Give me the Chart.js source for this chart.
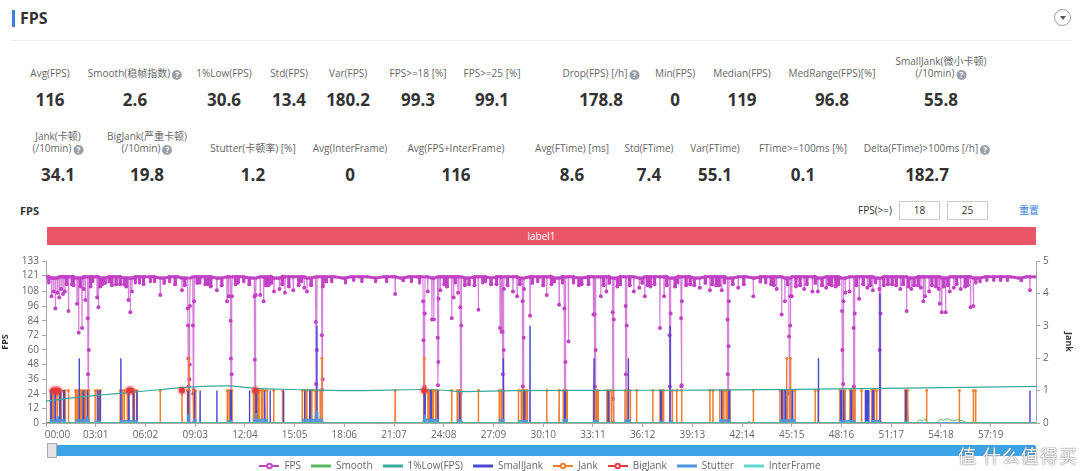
<!DOCTYPE html>
<html>
<head>
<meta charset="utf-8">
<script src="https://cdn.jsdelivr.net/npm/chart.js@4.4.0/dist/chart.umd.min.js"></script>
<style>
  html, body { margin: 0; padding: 0; background: #fff; width: 1080px; height: 471px; overflow: hidden; }
  body { position: relative; font-family: "Open Sans", "Noto Sans CJK SC", sans-serif; color: #333; }
  .abs { position: absolute; white-space: nowrap; }
  .bar { left: 12px; top: 10px; width: 3px; height: 17px; background: #3c7fe0; }
  .title { left: 20px; top: 7px; font-size: 16px; font-weight: bold; line-height: 22px; }
  .sep { left: 12px; top: 40px; width: 1060px; height: 1px; background: #eee; }
  .drop { left: 1054px; top: 9px; width: 17px; height: 17px; border: 1px solid #999; border-radius: 50%; box-sizing: border-box; }
  .drop:after { content: ""; position: absolute; left: 4.5px; top: 6px; border-left: 3.5px solid transparent; border-right: 3.5px solid transparent; border-top: 4px solid #555; }
  .lbl { font-size: 10px; line-height: 12px; color: #666; text-align: center; transform: translateX(-50%); }
  .val { font-size: 17px; line-height: 20px; font-weight: bold; color: #333; transform: translateX(-50%); }
  .help { display: inline-block; width: 10px; height: 10px; border-radius: 50%; background: #9aa0a8; color: #fff; font-size: 8px; line-height: 10px; text-align: center; font-weight: bold; vertical-align: -1px; margin-left: 2px; }
  .sub { left: 20px; top: 204px; font-size: 11px; font-weight: bold; line-height: 14px; }
  .fpsge { left: 858px; top: 204px; font-size: 10px; line-height: 13px; color: #333; }
  .inp { top: 201px; width: 41px; height: 19px; border: 1px solid #ccc; box-sizing: border-box; font-size: 10px; line-height: 17px; text-align: center; color: #333; }
  .reset { left: 1019px; top: 204px; font-size: 10px; line-height: 13px; color: #3b7ddd; }
  .label1 { left: 47px; top: 227px; width: 989px; height: 18px; background: #ea5769; color: #fff; font-size: 10px; line-height: 18px; text-align: center; }
  .slider { left: 47px; top: 445px; width: 989px; height: 11px; background: #3ba4e6; border-radius: 2px; }
  .handle { left: 47px; top: 443px; width: 10px; height: 15px; background: #e4e4e4; border: 1px solid #aaa; box-sizing: border-box; }
  .wm { left: 958px; top: 444px; font-size: 18px; line-height: 24px; color: rgba(255,255,255,0.92); text-shadow: 0 0 2px #888, 0 0 1px #777; letter-spacing: 1px; }
  canvas { position: absolute; left: 0; top: 250px; }
</style>
</head>
<body>
<div class="abs bar"></div>
<div class="abs title">FPS</div>
<div class="abs drop"></div>
<div class="abs sep"></div>
<div id="stats"></div>
<div class="abs sub">FPS</div>
<div class="abs fpsge">FPS(&gt;=)</div>
<div class="abs inp" style="left:899px">18</div>
<div class="abs inp" style="left:947px">25</div>
<div class="abs reset">重置</div>
<div class="abs label1">label1</div>
<canvas id="fpsChart" width="1080" height="231"></canvas>
<div class="abs slider"></div>
<div class="abs handle"></div>
<div class="abs wm">值 什么值得买</div>
<script>
// summary numbers: [label lines, value, centre x, has help icon]
const statsRow1 = [
    [['Avg(FPS)'], '116', 50, false],
    [['Smooth(稳帧指数)'], '2.6', 135, true],
    [['1%Low(FPS)'], '30.6', 224, false],
    [['Std(FPS)'], '13.4', 289, false],
    [['Var(FPS)'], '180.2', 348, false],
    [['FPS>=18 [%]'], '99.3', 418, false],
    [['FPS>=25 [%]'], '99.1', 492, false],
    [['Drop(FPS) [/h]'], '178.8', 601, true],
    [['Min(FPS)'], '0', 675, false],
    [['Median(FPS)'], '119', 742, false],
    [['MedRange(FPS)[%]'], '96.8', 832, false],
    [['SmallJank(微小卡顿)', '(/10min)'], '55.8', 941, true]
];
const statsRow2 = [
    [['Jank(卡顿)', '(/10min)'], '34.1', 58, true],
    [['BigJank(严重卡顿)', '(/10min)'], '19.8', 147, true],
    [['Stutter(卡顿率) [%]'], '1.2', 253, false],
    [['Avg(InterFrame)'], '0', 350, false],
    [['Avg(FPS+InterFrame)'], '116', 456, false],
    [['Avg(FTime) [ms]'], '8.6', 572, false],
    [['Std(FTime)'], '7.4', 649, false],
    [['Var(FTime)'], '55.1', 715, false],
    [['FTime>=100ms [%]'], '0.1', 803, false],
    [['Delta(FTime)>100ms [/h]'], '182.7', 927, true]
];

// time axis (seconds) and tick labels
const xMax = 3604;
const xTickStep = 181;
const xTickLabels = ['00:00', '03:01', '06:02', '09:03', '12:04', '15:05', '18:06', '21:07', '24:08', '27:09',
    '30:10', '33:11', '36:12', '39:13', '42:14', '45:15', '48:16', '51:17', '54:18', '57:19'];
const fpsTicks = [0, 12, 24, 36, 48, 60, 72, 84, 96, 108, 121, 133];

// FPS level sampled every 30 s
const fpsStep = 30;
const fpsBase = [
    120, 119, 120, 120, 119, 120, 120, 119, 120, 120,
    119, 120, 120, 120, 119, 120, 120, 119, 120, 120,
    120, 119, 120, 120, 120, 119, 120, 120, 119, 120,
    120, 120, 119, 120, 120, 120, 119, 120, 120, 120,
    119, 120, 120, 119, 120, 120, 120, 119, 120, 120,
    120, 119, 120, 120, 119, 120, 120, 120, 119, 120,
    120, 120, 119, 120, 120, 119, 120, 120, 120, 119,
    120, 120, 119, 120, 120, 120, 119, 120, 120, 119,
    120, 120, 120, 119, 120, 120, 119, 120, 120, 120,
    119, 120, 120, 120, 119, 120, 120, 119, 120, 120,
    120, 119, 120, 120, 120, 119, 120, 120, 120, 119,
    120, 120, 120, 119, 120, 120, 120, 120, 119, 120, 120
];
// single-second FPS dips [sec, fps]
const fpsDips = [
    [10, 115], [20, 104], [27, 108], [34, 94], [41, 107], [48, 103], [55, 110], [62, 106], [69, 108], [75, 114],
    [82, 92], [95, 114], [100, 113], [113, 98], [119, 74], [125, 112], [131, 78], [137, 110], [143, 101], [162, 112],
    [170, 116], [186, 103], [191, 95], [197, 112], [205, 114], [215, 115], [230, 116], [240, 113], [255, 114], [270, 114],
    [285, 114], [292, 112], [300, 101], [307, 91], [313, 108], [325, 115], [340, 115], [355, 114], [380, 116], [395, 116],
    [416, 105], [430, 115], [450, 116], [470, 114], [495, 109], [505, 113], [550, 115], [560, 115], [580, 114], [590, 114],
    [600, 112], [622, 109], [640, 113], [659, 100], [665, 104], [690, 114], [700, 115], [720, 116], [740, 114], [780, 105],
    [792, 100], [800, 113], [810, 113], [820, 115], [830, 108], [850, 110], [860, 114], [870, 107], [884, 112], [900, 109],
    [920, 113], [930, 116], [940, 111], [950, 108], [965, 113], [1020, 116], [1040, 116], [1090, 115], [1120, 117], [1150, 116],
    [1200, 116], [1240, 116], [1271, 106], [1300, 117], [1330, 116], [1360, 115], [1390, 108], [1405, 85], [1412, 85], [1435, 109],
    [1450, 114], [1460, 112], [1477, 86], [1484, 103], [1490, 115], [1500, 107], [1525, 113], [1540, 114], [1560, 113], [1574, 93],
    [1590, 115], [1600, 116], [1620, 114], [1640, 114], [1653, 78], [1658, 75], [1680, 113], [1700, 108], [1715, 104], [1725, 114],
    [1762, 88], [1770, 115], [1790, 116], [1810, 113], [1823, 105], [1840, 114], [1850, 116], [1868, 97], [1880, 115], [1902, 67],
    [1920, 115], [1940, 113], [1950, 114], [1975, 114], [1993, 89], [2020, 104], [2030, 113], [2040, 108], [2050, 115], [2080, 112],
    [2090, 114], [2125, 113], [2140, 108], [2160, 111], [2170, 115], [2180, 104], [2190, 113], [2200, 112], [2215, 114], [2235, 78],
    [2250, 104], [2260, 113], [2290, 112], [2300, 115], [2330, 113], [2345, 114], [2360, 113], [2380, 111], [2400, 115], [2417, 109],
    [2425, 114], [2440, 113], [2450, 113], [2460, 109], [2470, 115], [2500, 114], [2520, 111], [2540, 114], [2575, 104], [2600, 116],
    [2620, 115], [2640, 114], [2650, 113], [2660, 110], [2678, 89], [2690, 100], [2700, 114], [2715, 104], [2730, 112], [2745, 113],
    [2760, 110], [2770, 114], [2790, 108], [2800, 115], [2810, 108], [2825, 113], [2840, 111], [2850, 114], [2860, 113], [2875, 112],
    [2885, 114], [2910, 107], [2925, 108], [2950, 113], [2960, 102], [2975, 114], [2990, 111], [3000, 113], [3010, 109], [3020, 115],
    [3050, 113], [3065, 114], [3080, 114], [3095, 113], [3110, 110], [3120, 114], [3133, 92], [3140, 112], [3150, 110], [3160, 113],
    [3175, 113], [3185, 111], [3194, 100], [3200, 104], [3215, 108], [3225, 113], [3240, 112], [3250, 110], [3254, 98], [3261, 91],
    [3268, 112], [3275, 91], [3283, 113], [3290, 108], [3305, 111], [3315, 114], [3330, 110], [3346, 112], [3355, 113], [3366, 95],
    [3376, 96], [3385, 115], [3400, 116], [3425, 117], [3450, 117], [3475, 117], [3500, 117], [3550, 117], [3582, 109]
];
// multi-second drops [start sec, fps per second]
const fpsDrops = [
    [152, [86, 40, 0, 0, 60]],
    [516, [94, 80, 53, 30, 0, 0, 36, 48, 96]],
    [535, [80, 24, 0, 27, 100]],
    [672, [84, 53, 0, 0, 40, 104]],
    [759, [104, 52, 0, 0, 27, 105]],
    [982, [83, 32, 0, 0, 60]],
    [1004, [72, 27, 0, 36, 112]],
    [1373, [100, 68, 26, 0, 0, 30, 90]],
    [1426, [70, 31, 50, 102]],
    [1508, [95, 24, 0, 0, 80]],
    [1662, [75, 40, 0, 0, 60, 110]],
    [1735, [100, 30, 0, 0, 70, 110]],
    [1887, [94, 26, 0, 0, 50]],
    [1997, [89, 30, 0, 0, 60]],
    [2063, [91, 20, 0, 0, 85]],
    [2110, [96, 40, 0, 0, 80]],
    [2270, [72, 30, 0, 0, 90]],
    [2312, [86, 30, 31, 100]],
    [2481, [85, 40, 0, 0, 63, 100]],
    [2705, [71, 24, 0, 0, 80, 104]],
    [2898, [92, 60, 0, 0, 32, 100]],
    [2940, [78, 30, 0, 0, 90]],
    [3034, [110, 60, 0, 0, 90]]
];

// 1%Low(FPS)
const lowTimes = [0, 110, 200, 300, 420, 520, 660, 760, 900, 1100, 1377, 1470, 1500, 1700, 2000, 2400, 2800, 3200, 3604];
const lowValues = [18, 21, 23, 25, 27.5, 29.5, 30.5, 28.5, 27.5, 26.5, 27.5, 26.5, 25.8, 26.5, 26.8, 27, 27.8, 28.8, 30];

// jank counts [start sec, end sec, count]
const jankRuns = [
    [16, 24, 1], [28, 40, 1], [44, 52, 1], [56, 70, 1], [82, 82, 1], [107, 112, 1], [117, 126, 1], [131, 140, 1], [146, 156, 1],
    [179, 186, 1], [190, 198, 1], [270, 278, 1], [285, 296, 1], [302, 316, 1], [322, 332, 1], [416, 416, 1], [495, 495, 1],
    [515, 518, 1], [519, 519, 2], [520, 522, 1], [537, 545, 1], [660, 666, 1], [670, 677, 1],
    [755, 760, 1], [762, 770, 1], [776, 784, 1], [790, 805, 1], [829, 829, 1], [861, 861, 1],
    [933, 945, 1], [950, 962, 1], [968, 980, 1], [986, 998, 1], [1004, 1004, 2],
    [1271, 1271, 1], [1374, 1376, 1], [1377, 1377, 2], [1378, 1390, 1], [1396, 1404, 1], [1410, 1418, 1], [1424, 1428, 1],
    [1477, 1477, 1], [1497, 1503, 1], [1507, 1510, 1], [1574, 1574, 1], [1650, 1656, 1], [1660, 1666, 1],
    [1720, 1730, 1], [1736, 1744, 1], [1748, 1752, 1], [1823, 1823, 1], [1868, 1868, 1], [1883, 1890, 1], [1894, 1897, 1],
    [1993, 2001, 1], [2005, 2010, 1], [2042, 2050, 1], [2058, 2066, 1], [2108, 2116, 1], [2120, 2127, 1], [2150, 2150, 1],
    [2209, 2209, 1], [2235, 2241, 1], [2245, 2248, 1], [2272, 2280, 1], [2296, 2296, 1], [2314, 2314, 1], [2417, 2417, 1], [2428, 2428, 1],
    [2453, 2462, 1], [2468, 2476, 1], [2482, 2490, 1], [2575, 2575, 1],
    [2672, 2680, 1], [2684, 2694, 1], [2697, 2697, 2], [2700, 2708, 1], [2710, 2710, 2], [2712, 2727, 1],
    [2800, 2800, 1], [2811, 2811, 1], [2890, 2898, 1], [2901, 2909, 1], [2927, 2935, 1], [2939, 2945, 1], [2969, 2969, 1],
    [3006, 3012, 1], [3016, 3024, 1], [3036, 3036, 1], [3127, 3132, 1], [3135, 3138, 1], [3206, 3206, 1], [3325, 3325, 1], [3376, 3384, 1]
];
const smallJankRuns = [
    [18, 19, 1], [33, 34, 1], [50, 51, 1], [64, 66, 1], [121, 121, 2], [135, 137, 1], [150, 152, 1], [188, 189, 1], [196, 197, 1],
    [272, 272, 1], [273, 273, 2], [300, 302, 1], [318, 320, 1], [330, 331, 1], [517, 518, 1], [540, 541, 1], [561, 561, 1],
    [622, 622, 1], [672, 674, 1], [741, 741, 1], [764, 766, 1], [795, 797, 1], [816, 816, 1], [865, 865, 1],
    [940, 942, 1], [960, 962, 1], [986, 986, 3], [1377, 1380, 1], [1400, 1402, 1], [1426, 1427, 1], [1505, 1507, 1],
    [1665, 1665, 2], [1740, 1742, 1], [1762, 1762, 3], [1888, 1890, 1], [1995, 1995, 2], [2046, 2048, 1], [2120, 2120, 2],
    [2238, 2240, 1], [2272, 2272, 3], [2458, 2460, 1], [2486, 2488, 1], [2678, 2680, 1], [2690, 2692, 1], [2716, 2718, 1],
    [2812, 2812, 2], [2893, 2895, 1], [2903, 2905, 1], [2930, 2932, 1], [2983, 2986, 1], [2990, 2995, 1], [3010, 3012, 1],
    [3036, 3036, 4], [3130, 3131, 1], [3582, 3582, 1]
];
const bigJankTimes = [27, 36, 45, 302, 310, 495, 762, 1377];
const stutterRuns = [
    [16, 70, 0.1], [40, 44, 0.2], [107, 156, 0.1], [146, 150, 0.2], [179, 198, 0.06], [270, 332, 0.08], [515, 522, 0.25],
    [537, 545, 0.12], [660, 677, 0.08], [755, 805, 0.12], [762, 766, 0.3], [933, 1004, 0.12], [980, 990, 0.35],
    [1374, 1428, 0.12], [1377, 1381, 0.25], [1497, 1510, 0.1], [1650, 1666, 0.12], [1720, 1752, 0.08], [1883, 1897, 0.12],
    [1993, 2010, 0.08], [2108, 2127, 0.1], [2235, 2248, 0.06], [2272, 2280, 0.08], [2453, 2490, 0.1], [2672, 2727, 0.1],
    [2890, 2945, 0.08], [2983, 2995, 0.06], [3006, 3036, 0.08], [3127, 3138, 0.06]
];
const smoothTimes = [0, 1200, 1205, 1210, 2555, 2560, 2565, 3170, 3180, 3190, 3200, 3210, 3243, 3255, 3265, 3280, 3300, 3320, 3340, 3353, 3604];
const smoothValues = [0, 0, 0.03, 0, 0, 0.06, 0, 0, 0.1, 0.06, 0.12, 0, 0, 0.12, 0.08, 0.13, 0.07, 0.1, 0.06, 0, 0];
const interFrameTimes = [0, 3604];
const interFrameValues = [0, 0];

const colors = {
    fps: '#c242c4',
    fpsDrop: 'rgba(200, 90, 205, 0.75)',
    smooth: '#5cb860',
    low: '#38a99c',
    smallJank: '#4848d2',
    jank: '#f07f2e',
    bigJank: '#e43a3f',
    stutter: 'rgba(77, 152, 228, 0.85)',
    interFrame: '#5fd9d2'
};

// ---- summary block ----
const stats = document.getElementById('stats');
function addStats(row, labelBottom, valueTop) {
    row.forEach(([lines, value, x, help]) => {
        const lbl = document.createElement('div');
        lbl.className = 'abs lbl';
        lbl.style.left = x + 'px';
        lbl.style.top = (labelBottom - lines.length * 12) + 'px';
        lbl.innerHTML = lines.map((l, i) => l + (help && i === lines.length - 1 ? '<span class="help">?</span>' : '')).join('<br>');
        stats.appendChild(lbl);
        const val = document.createElement('div');
        val.className = 'abs val';
        val.style.left = x + 'px';
        val.style.top = valueTop + 'px';
        val.textContent = value;
        stats.appendChild(val);
    });
}
addStats(statsRow1, 79, 90);
addStats(statsRow2, 154, 165);

// ---- chart data ----
function baseAt(t) {
    return fpsBase[Math.min(fpsBase.length - 1, Math.round(t / fpsStep))];
}
const fpsPoints = [];
const busy = [];
fpsDips.forEach(([t, v]) => {
    const b = baseAt(t);
    fpsPoints.push({ x: t - 1, y: b }, { x: t, y: v }, { x: t + 1, y: b });
    busy.push([t - 1, t + 1]);
});
fpsDrops.forEach(([t0, vals]) => {
    const b = baseAt(t0);
    fpsPoints.push({ x: t0 - 1, y: b });
    vals.forEach((v, i) => fpsPoints.push({ x: t0 + i, y: v }));
    fpsPoints.push({ x: t0 + vals.length, y: b });
    busy.push([t0 - 1, t0 + vals.length]);
});
fpsBase.forEach((v, i) => {
    const t = i * fpsStep;
    if (!busy.some(([a, b]) => t >= a && t <= b)) fpsPoints.push({ x: t, y: v });
});
fpsPoints.sort((a, b) => a.x - b.x);

function runsToPoints(runs) {
    const pts = [{ x: 0, y: 0 }];
    runs.slice().sort((a, b) => a[0] - b[0]).forEach(([s, e, v]) => {
        pts.push({ x: s - 0.5, y: 0 }, { x: s, y: v }, { x: e, y: v }, { x: e + 0.5, y: 0 });
    });
    pts.push({ x: xMax, y: 0 });
    return pts;
}
const zip = (xs, ys) => xs.map((x, i) => ({ x: x, y: ys[i] }));

// legend icons: line, optionally with a dot
function makeIcon(color, dot) {
    const c = document.createElement('canvas');
    c.width = 20; c.height = 8;
    const g = c.getContext('2d');
    g.strokeStyle = color;
    g.lineWidth = dot ? 2 : 3;
    g.beginPath(); g.moveTo(0, 4); g.lineTo(20, 4); g.stroke();
    if (dot) {
        g.fillStyle = color;
        g.beginPath(); g.arc(10, 4, 3.2, 0, Math.PI * 2); g.fill();
        g.fillStyle = '#fff';
        g.beginPath(); g.arc(10, 4, 1.3, 0, Math.PI * 2); g.fill();
    }
    return c;
}

// thick band near the top, thin lines on dips
const onBand = ctx => ctx.p0.parsed.y >= 112 && ctx.p1.parsed.y >= 112;

Chart.defaults.font.family = '"Open Sans", "Noto Sans CJK SC", sans-serif';
Chart.defaults.color = '#666';

const datasets = [
    {
        label: 'FPS', data: fpsPoints, yAxisID: 'y', order: 9,
        borderColor: colors.fps, backgroundColor: colors.fps, borderWidth: 3,
        segment: {
            borderWidth: ctx => (onBand(ctx) ? 3 : 1.2),
            borderColor: ctx => (onBand(ctx) ? colors.fps : colors.fpsDrop)
        },
        pointRadius: ctx => (ctx.raw && ctx.raw.y < 115 ? 2 : 1.6), pointBorderWidth: 0,
        icon: makeIcon(colors.fps, true)
    },
    {
        label: 'Smooth', data: zip(smoothTimes, smoothValues), yAxisID: 'y1', order: 4,
        borderColor: colors.smooth, backgroundColor: colors.smooth, borderWidth: 1, pointRadius: 0,
        icon: makeIcon(colors.smooth, false)
    },
    {
        label: '1%Low(FPS)', data: zip(lowTimes, lowValues), yAxisID: 'y', order: 3,
        borderColor: colors.low, backgroundColor: colors.low, borderWidth: 1.2, pointRadius: 0,
        cubicInterpolationMode: 'monotone', icon: makeIcon(colors.low, false)
    },
    {
        label: 'SmallJank', data: runsToPoints(smallJankRuns), yAxisID: 'y1', order: 6,
        borderColor: colors.smallJank, backgroundColor: colors.smallJank, borderWidth: 1.4, pointRadius: 0,
        icon: makeIcon(colors.smallJank, false)
    },
    {
        label: 'Jank', data: runsToPoints(jankRuns), yAxisID: 'y1', order: 7,
        borderColor: colors.jank, backgroundColor: colors.jank, borderWidth: 1.5,
        pointRadius: ctx => (ctx.raw && ctx.raw.y > 0 ? 1.3 : 0), pointBorderWidth: 0,
        icon: makeIcon(colors.jank, true)
    },
    {
        label: 'BigJank', data: bigJankTimes.map(t => ({ x: t, y: 1 })), yAxisID: 'y1', order: 1,
        showLine: false, backgroundColor: colors.bigJank, borderColor: 'rgba(228,58,63,0.28)',
        pointRadius: 3, pointBorderWidth: 4, icon: makeIcon(colors.bigJank, true)
    },
    {
        label: 'Stutter', data: runsToPoints(stutterRuns), yAxisID: 'y1', order: 5,
        borderColor: colors.stutter, backgroundColor: colors.stutter, borderWidth: 1, pointRadius: 0,
        fill: 'origin', icon: makeIcon('#4d98e4', false)
    },
    {
        label: 'InterFrame', data: zip(interFrameTimes, interFrameValues), yAxisID: 'y', order: 4,
        borderColor: colors.interFrame, backgroundColor: colors.interFrame, borderWidth: 1, pointRadius: 0,
        icon: makeIcon(colors.interFrame, false)
    }
];

new Chart(document.getElementById('fpsChart'), {
    type: 'line',
    data: { datasets: datasets },
    options: {
        responsive: false,
        animation: false,
        layout: { padding: { top: 11, left: 0, right: 0, bottom: 0 } },
        plugins: {
            tooltip: { enabled: false },
            legend: {
                position: 'bottom',
                labels: {
                    usePointStyle: true,
                    pointStyleWidth: 20,
                    padding: 10,
                    color: '#666',
                    font: { size: 10 },
                    generateLabels: chart => chart.data.datasets.map((ds, i) => ({
                        text: ds.label,
                        pointStyle: ds.icon,
                        fillStyle: ds.borderColor,
                        strokeStyle: ds.borderColor,
                        lineWidth: 0,
                        hidden: false,
                        datasetIndex: i,
                        fontColor: '#666'
                    }))
                }
            }
        },
        scales: {
            x: {
                type: 'linear',
                min: 0,
                max: xMax,
                afterBuildTicks: axis => { axis.ticks = xTickLabels.map((l, i) => ({ value: i * xTickStep })); },
                afterFit: s => { s.height = 28; },
                ticks: {
                    autoSkip: false,
                    maxRotation: 0,
                    padding: 2,
                    color: '#666',
                    font: { size: 10 },
                    callback: (v, i) => (i === 0 ? '\u2007\u2007\u2007\u2007' + xTickLabels[i] : xTickLabels[i])
                },
                grid: { drawOnChartArea: false, tickLength: 4, color: '#aaa' },
                border: { color: '#aaa' }
            },
            y: {
                position: 'left',
                min: 0,
                max: 133,
                afterBuildTicks: axis => { axis.ticks = fpsTicks.map(v => ({ value: v })); },
                afterFit: s => { s.width = 46; },
                ticks: { autoSkip: false, padding: 3, color: '#666', font: { size: 10 } },
                grid: { drawOnChartArea: false, tickLength: 4, color: '#aaa' },
                border: { color: '#aaa' },
                title: { display: true, text: 'FPS', color: '#333', font: { size: 9, weight: 'bold' }, padding: { top: 0, bottom: 6 } }
            },
            y1: {
                position: 'right',
                min: 0,
                max: 5,
                afterFit: s => { s.width = 44; },
                ticks: { autoSkip: false, stepSize: 1, padding: 3, color: '#666', font: { size: 10 } },
                grid: { drawOnChartArea: false, tickLength: 4, color: '#aaa' },
                border: { color: '#aaa' },
                title: { display: true, text: 'Jank', color: '#333', font: { size: 9, weight: 'bold' }, padding: { top: 6, bottom: 0 } }
            }
        }
    }
});
</script>
</body>
</html>
